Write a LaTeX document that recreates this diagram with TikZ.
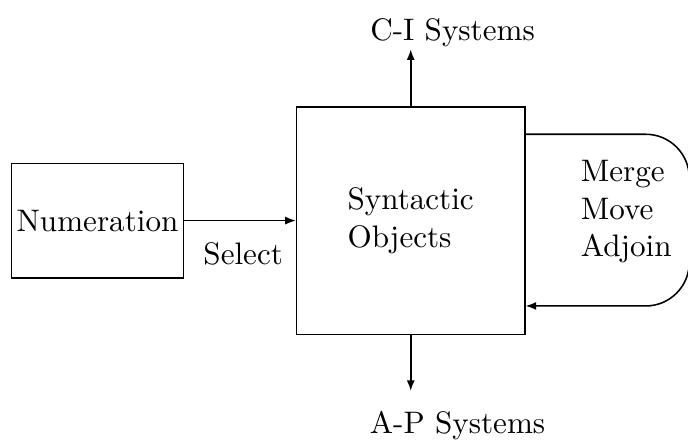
\documentclass[tikz,border=0pt]{standalone}
\usetikzlibrary{arrows.meta, positioning}

\begin{document}
\begin{tikzpicture}[
      node distance=35.9pt,
      box/.style={rectangle, draw=black, line width=0.5pt, align=left},
      lbl/.style={inner sep=2pt},
      arr/.style={-{Latex[length=3.4pt, width=2.6pt]}, line width=0.5pt}
    ]
    \useasboundingbox (0,0) rectangle (221.2pt,141.5pt);

    \node[box, minimum width=55.2pt, minimum height=36.8pt, inner sep=1pt]
          (num) at (31.35pt,70.58pt) {Numeration};
    \node[box, minimum width=73.4pt, minimum height=73.2pt, right=of num]
          (syn) {Syntactic\\Objects};

    \node[lbl, anchor=base] (select) at (78.2pt,56.6pt)   {Select};
    \node[lbl, anchor=base] (ci)     at (145.5pt,128.6pt) {C-I Systems};
    \node[lbl, anchor=base] (ap)     at (147.1pt,2.25pt)  {A-P Systems};
    \node[align=left, anchor=west] (ops) at (183.2pt,73.4pt) {Merge\\Move\\Adjoin};

    % free ends of the connectors
    \coordinate (citip)   at ([yshift=18.2pt]syn.north);
    \coordinate (aptip)   at ([yshift=-17.9pt]syn.south);
    \coordinate (loopin)  at ([yshift=-9.1pt]syn.north east);
    \coordinate (loopout) at ([yshift=9.4pt]syn.south east);

    \draw[arr] (num) -- (syn);
    \draw[arr] (syn) -- (citip);
    \draw[arr] (syn) -- (aptip);
    \draw[arr, rounded corners=14pt] (loopin) -- ++(52.6pt,0) |- (loopout);
  \end{tikzpicture}
\end{document}
